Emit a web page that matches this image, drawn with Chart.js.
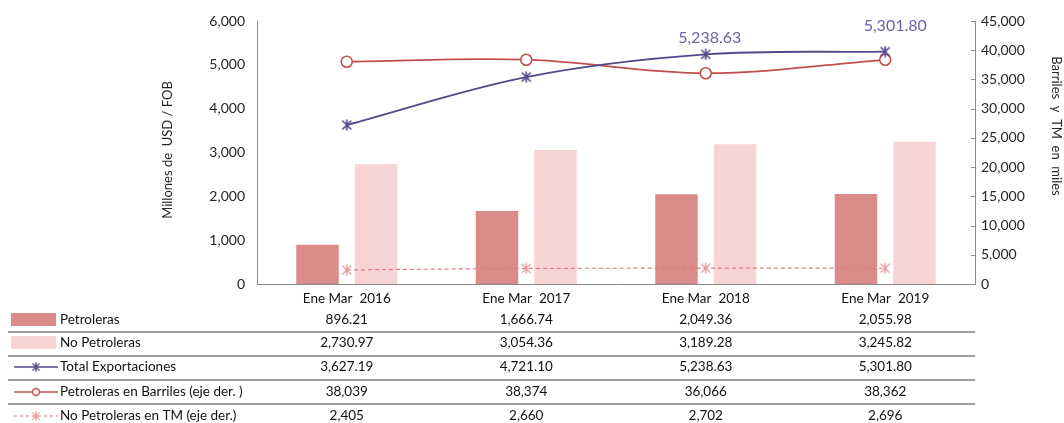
<!DOCTYPE html>
<html><head><meta charset="utf-8">
<script src="https://cdn.jsdelivr.net/npm/chart.js@4.4.1/dist/chart.umd.min.js"></script>
<style>html,body{margin:0;padding:0;background:#fff;overflow:hidden}#wrap{width:1064px;height:423px;position:relative}</style>
</head><body><div id="wrap"><canvas id="c" width="1064" height="423"></canvas></div>
<script>
// ---- data ----
const categories = ['Ene Mar  2016', 'Ene Mar  2017', 'Ene Mar  2018', 'Ene Mar  2019'];
const petroleras = [896.21, 1666.74, 2049.36, 2055.98];
const noPetroleras = [2730.97, 3054.36, 3189.28, 3245.82];
const totalExport = [3627.19, 4721.10, 5238.63, 5301.80];
const petBarriles = [38039, 38374, 36066, 38362];
const noPetTM = [2405, 2660, 2702, 2696];
const labeledTotalIdx = [2, 3];
const leftTicks = [0, 1000, 2000, 3000, 4000, 5000, 6000];
const rightTicks = [0, 5000, 10000, 15000, 20000, 25000, 30000, 35000, 40000, 45000];
const seriesNames = ['Petroleras', 'No Petroleras', 'Total Exportaciones', 'Petroleras en Barriles (eje der. )', 'No Petroleras en TM (eje der.)'];

// ---- styles ----
const FONT = 'Lato, "Open Sans", sans-serif';
const C = {
  pet: '#DC8B8B', noPet: '#F8D3D4', total: '#54478A', barr: '#C0504D', tm: '#E07B7B',
  axis: '#8A8A8A', tick: '#262626', text: '#111111', label: '#6B63A8', sep: '#808080'
};

function starImg(color, size, lw) {
  const cv = document.createElement('canvas');
  cv.width = size; cv.height = size;
  const g = cv.getContext('2d');
  g.strokeStyle = color; g.lineWidth = lw; g.lineCap = 'butt';
  const m = 1.5, s = size - 1.5;
  g.beginPath();
  g.moveTo(m, m); g.lineTo(s, s);
  g.moveTo(s, m); g.lineTo(m, s);
  g.moveTo(size / 2, 0.5); g.lineTo(size / 2, size - 0.5);
  g.stroke();
  return cv;
}
const starTotal = starImg(C.total, 12, 1.6);
const starTM = starImg('#E89A9A', 12, 1.4);

const fmt2 = v => v.toLocaleString('en-US', {minimumFractionDigits: 2, maximumFractionDigits: 2});
const fmt0 = v => v.toLocaleString('en-US', {maximumFractionDigits: 0});
const tableRows = [
  {vals: petroleras.map(fmt2)},
  {vals: noPetroleras.map(fmt2)},
  {vals: totalExport.map(fmt2)},
  {vals: petBarriles.map(fmt0)},
  {vals: noPetTM.map(fmt0)}
];

const extras = {
  id: 'extras',
  afterDatasetsDraw(chart, args, opts) {
    const g = chart.ctx;
    const meta = chart.getDatasetMeta(0);
    g.save();
    g.font = '16px ' + FONT;
    g.fillStyle = C.label;
    g.textAlign = 'center';
    g.textBaseline = 'middle';
    labeledTotalIdx.forEach((i, k) => {
      const p = meta.data[i];
      g.fillText(fmt2(totalExport[i]), p.x + opts.dx[k], p.y - opts.dy[k]);
    });
    g.restore();
  },
  afterDraw(chart, args, opts) {
    const g = chart.ctx;
    const xs = chart.scales.x, y1 = chart.scales.y1, ca = chart.chartArea;
    g.save();
    // inside tick marks on right axis
    g.strokeStyle = C.axis; g.lineWidth = 1;
    rightTicks.forEach(v => {
      const y = Math.round(y1.getPixelForValue(v)) + 0.5;
      g.beginPath(); g.moveTo(ca.right - 4, y); g.lineTo(ca.right, y); g.stroke();
    });
    // axis titles
    g.fillStyle = '#262626';
    g.font = '13px ' + FONT;
    g.textAlign = 'center'; g.textBaseline = 'middle';
    g.save(); g.translate(168, 150); g.rotate(-Math.PI / 2);
    g.fillText('Millones de  USD / FOB', 0, 0); g.restore();
    g.save(); g.translate(1056, 126); g.rotate(Math.PI / 2);
    g.fillText('Barriles  y  TM  en  miles', 0, 0); g.restore();
    // table
    const rowY = [320, 343, 367, 392, 416];
    const sepY = [332, 356, 380, 404];
    g.strokeStyle = C.sep; g.lineWidth = 1.6;
    sepY.forEach(y => { g.beginPath(); g.moveTo(8, y); g.lineTo(ca.right, y); g.stroke(); });
    g.font = '13.5px ' + FONT;
    g.fillStyle = C.text;
    tableRows.forEach((r, ri) => {
      g.textAlign = 'left';
      g.fillText(seriesNames[ri], 60, rowY[ri]);
      g.textAlign = 'center';
      r.vals.forEach((t, i) => g.fillText(t, xs.getPixelForValue(i), rowY[ri]));
    });
    // legend symbols
    g.fillStyle = C.pet; g.fillRect(11, rowY[0] - 7, 45, 13);
    g.fillStyle = C.noPet; g.fillRect(11, rowY[1] - 7, 45, 13);
    // total
    g.strokeStyle = C.total; g.lineWidth = 1.6;
    g.beginPath(); g.moveTo(14, rowY[2]); g.lineTo(58, rowY[2]); g.stroke();
    g.drawImage(starTotal, 36 - 5, rowY[2] - 5, 10, 10);
    // barriles
    g.strokeStyle = C.barr; g.lineWidth = 1.6;
    g.beginPath(); g.moveTo(14, rowY[3]); g.lineTo(58, rowY[3]); g.stroke();
    g.beginPath(); g.arc(36, rowY[3], 3.5, 0, Math.PI * 2);
    g.fillStyle = '#fff'; g.fill(); g.lineWidth = 1.4; g.stroke();
    // TM
    g.strokeStyle = C.tm; g.lineWidth = 1.1; g.setLineDash([3, 3]);
    g.beginPath(); g.moveTo(14, rowY[4]); g.lineTo(58, rowY[4]); g.stroke();
    g.setLineDash([]);
    g.drawImage(starTM, 36 - 5, rowY[4] - 5, 10, 10);
    g.restore();
  }
};

new Chart(document.getElementById('c'), {
  type: 'bar',
  data: {
    labels: categories,
    datasets: [
      {type: 'line', label: seriesNames[2], data: totalExport, yAxisID: 'y',
        borderColor: C.total, borderWidth: 1.8, tension: 0.35, fill: false,
        pointStyle: starTotal, pointRadius: 6},
      {type: 'line', label: seriesNames[3], data: petBarriles, yAxisID: 'y1',
        borderColor: C.barr, borderWidth: 1.8, tension: 0.35, fill: false,
        pointStyle: 'circle', pointRadius: 5.5, pointBorderWidth: 1.6,
        pointBackgroundColor: '#fff', pointBorderColor: C.barr},
      {type: 'line', label: seriesNames[4], data: noPetTM, yAxisID: 'y1',
        borderColor: C.tm, borderWidth: 1.2, borderDash: [4, 3], tension: 0.35, fill: false,
        pointStyle: starTM, pointRadius: 6},
      {type: 'bar', label: seriesNames[0], data: petroleras, yAxisID: 'y',
        backgroundColor: C.pet, categoryPercentage: 0.652, barPercentage: 0.726},
      {type: 'bar', label: seriesNames[1], data: noPetroleras, yAxisID: 'y',
        backgroundColor: C.noPet, categoryPercentage: 0.652, barPercentage: 0.726}
    ]
  },
  options: {
    responsive: false, animation: false, devicePixelRatio: 1,
    layout: {padding: {top: 21, left: 0, right: 0, bottom: 0}},
    plugins: {legend: {display: false}, tooltip: {enabled: false},
      extras: {dx: [4, 10], dy: [17, 26]}},
    scales: {
      x: {
        grid: {display: false, drawTicks: false},
        border: {color: C.axis, width: 1},
        ticks: {font: {family: FONT, size: 13.5}, color: C.text, padding: 7, maxRotation: 0},
        afterFit(s) { s.height = 139; }
      },
      y: {
        position: 'left', min: 0, max: 6000,
        afterBuildTicks(s) { s.ticks = leftTicks.map(v => ({value: v})); },
        ticks: {font: {family: FONT, size: 14}, color: C.tick, padding: 12,
          callback: v => fmt0(v)},
        grid: {display: false, drawTicks: false},
        border: {color: C.axis, width: 1},
        afterFit(s) { s.width = 257; }
      },
      y1: {
        position: 'right', min: 0, max: 45000,
        afterBuildTicks(s) { s.ticks = rightTicks.map(v => ({value: v})); },
        ticks: {font: {family: FONT, size: 14}, color: C.tick, padding: 6,
          callback: v => fmt0(v)},
        grid: {display: false, drawTicks: false},
        border: {color: C.axis, width: 1},
        afterFit(s) { s.width = 89; }
      }
    }
  },
  plugins: [extras]
});
</script></body></html>
